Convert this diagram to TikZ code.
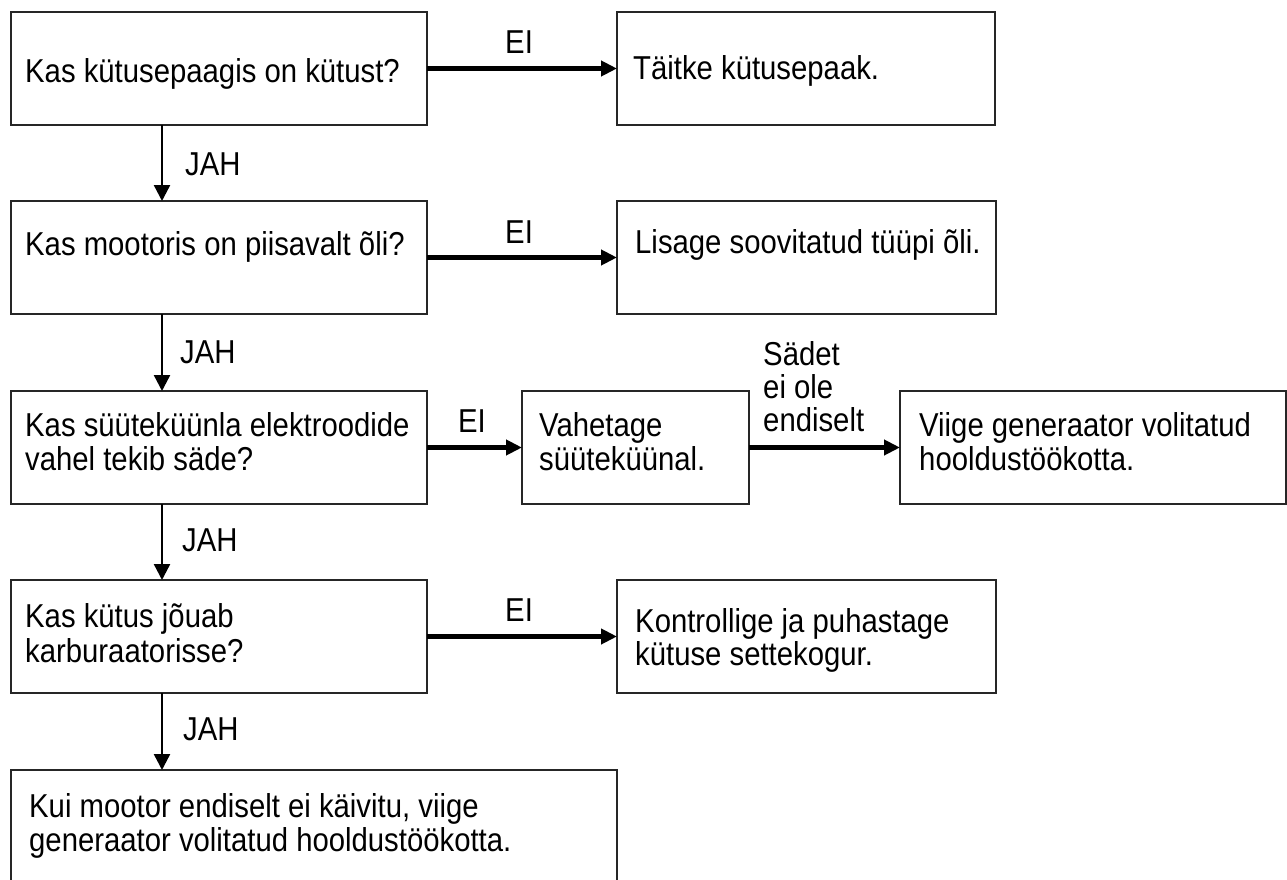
\documentclass[tikz,border=0pt]{standalone}
\usepackage{fontspec}
\usepackage{graphicx}
\setmainfont{Liberation Sans}
\usetikzlibrary{arrows.meta}
\newcommand{\tallt}[1]{\scalebox{1}[1.13]{#1}}
\begin{document}
\begin{tikzpicture}[x=1pt,y=-1pt,
  box/.style={draw=black!85, line width=1.8pt, inner sep=0pt, outer sep=0pt, anchor=north west},
  txt/.style={font=\fontsize{29.3pt}{34pt}\selectfont, inner sep=0pt, anchor=base west},
  harrow/.style={line width=4.4pt, -{Triangle[length=16pt,width=15pt]}},
  varrow/.style={line width=2.4pt, -{Triangle[length=16pt,width=16pt]}}
]
\useasboundingbox (0,0) rectangle (1287,880);
\clip (0,0) rectangle (1287,880);
\fill[white] (0,0) rectangle (1287,880);

% boxes
\node[box, minimum width=416pt, minimum height=113pt] (b1) at (11,12) {};
\node[box, minimum width=378pt, minimum height=113pt] (b2) at (617,12) {};
\node[box, minimum width=416pt, minimum height=113pt] (b3) at (11,201) {};
\node[box, minimum width=379pt, minimum height=113pt] (b4) at (617,201) {};
\node[box, minimum width=416pt, minimum height=113pt] (b5) at (11,391) {};
\node[box, minimum width=227pt, minimum height=113pt] (b6) at (522,391) {};
\node[box, minimum width=386pt, minimum height=113pt] (b7) at (900,391) {};
\node[box, minimum width=416pt, minimum height=113pt] (b8) at (11,580) {};
\node[box, minimum width=379pt, minimum height=113pt] (b9) at (617,580) {};
\node[box, minimum width=606pt, minimum height=140pt] (b10) at (11,770) {};

% box texts
\node[txt] (t1) at (25,83) {\tallt{Kas kütusepaagis on kütust?}};
\node[txt] (t2) at (633,80) {\tallt{Täitke kütusepaak.}};
\node[txt] (t3) at (25,255) {\tallt{Kas mootoris on piisavalt õli?}};
\node[txt] (t4) at (635,253) {\tallt{Lisage soovitatud tüüpi õli.}};
\node[txt] (t5a) at (25,436) {\tallt{Kas süüteküünla elektroodide}};
\node[txt] (t5b) at (25,470) {\tallt{vahel tekib säde?}};
\node[txt] (t6a) at (539,436) {\tallt{Vahetage}};
\node[txt] (t6b) at (539,470) {\tallt{süüteküünal.}};
\node[txt] (t7a) at (919,436) {\tallt{Viige generaator volitatud}};
\node[txt] (t7b) at (919,470) {\tallt{hooldustöökotta.}};
\node[txt] (t8a) at (25,627) {\tallt{Kas kütus jõuab}};
\node[txt] (t8b) at (25,662) {\tallt{karburaatorisse?}};
\node[txt] (t9a) at (635,632) {\tallt{Kontrollige ja puhastage}};
\node[txt] (t9b) at (635,665) {\tallt{kütuse settekogur.}};
\node[txt] (t10a) at (29,817) {\tallt{Kui mootor endiselt ei käivitu, viige}};
\node[txt] (t10b) at (29,851) {\tallt{generaator volitatud hooldustöökotta.}};

% connectors
\coordinate (spine) at (162,0);
\draw[harrow] (b1.east) -- (b2.west);
\draw[harrow] (b3.east) -- (b4.west);
\draw[harrow] (b5.east) -- (b6.west);
\draw[harrow] (b6.east) -- (b7.west);
\draw[harrow] (b8.east) -- (b9.west);
\draw[varrow] (b1.south -| spine) -- (b3.north -| spine);
\draw[varrow] (b3.south -| spine) -- (b5.north -| spine);
\draw[varrow] (b5.south -| spine) -- (b8.north -| spine);
\draw[varrow] (b8.south -| spine) -- (b10.north -| spine);

% connector labels
\node[txt] (ei1) at (505,54) {\tallt{EI}};
\node[txt] (ei2) at (505,243) {\tallt{EI}};
\node[txt] (ei3) at (458,432) {\tallt{EI}};
\node[txt] (ei4) at (505,621) {\tallt{EI}};
\node[txt] (jah1) at (185,175) {\tallt{JAH}};
\node[txt] (jah2) at (180,363) {\tallt{JAH}};
\node[txt] (jah3) at (182,551) {\tallt{JAH}};
\node[txt] (jah4) at (183,740) {\tallt{JAH}};
\node[txt] (s1) at (763,365) {\tallt{Sädet}};
\node[txt] (s2) at (763,398) {\tallt{ei ole}};
\node[txt] (s3) at (763,431) {\tallt{endiselt}};
\end{tikzpicture}
\end{document}
